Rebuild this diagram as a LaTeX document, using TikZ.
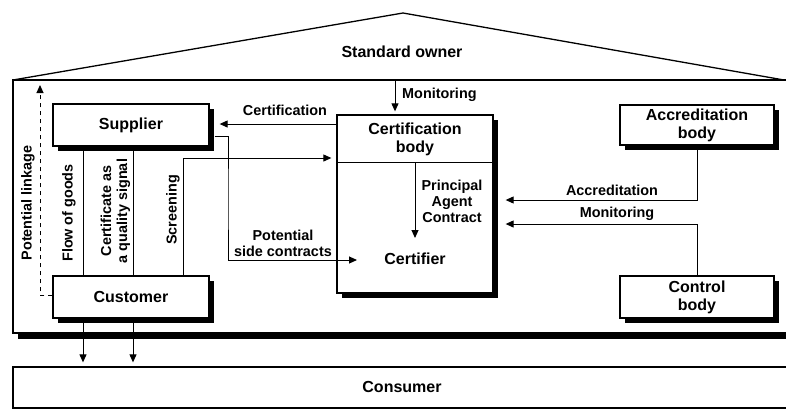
\documentclass[tikz,border=0pt]{standalone}
\usepackage{fontspec}
\setmainfont{Liberation Sans}
\usetikzlibrary{arrows.meta,shadows}
\begin{document}
\begin{tikzpicture}[x=1pt,y=-1pt,
  frame/.style={line width=1.3pt},
  box/.style={draw, line width=1.3pt, fill=white, align=center, inner sep=0pt,
    font=\fontsize{16}{18}\selectfont\bfseries,
    general shadow={fill=black, shadow xshift=5pt, shadow yshift=-5pt}},
  plainbox/.style={draw, line width=1.3pt, fill=white, inner sep=0pt},
  txt/.style={align=center, inner sep=0pt, font=\fontsize{16}{18}\selectfont\bfseries},
  lbl/.style={align=center, inner sep=0pt, font=\fontsize{14.4}{16}\selectfont\bfseries},
  conn/.style={line width=1pt},
  arr/.style={line width=1pt, -{Triangle[length=8pt,width=7pt]}}]
\useasboundingbox (0,0) rectangle (786,410);
\clip (0,0) rectangle (786,410);

% house: roof and body with its shadow
\fill (18,85) rectangle (800,339);
\draw[frame, fill=white] (13,80) rectangle (800,333);
\draw[frame] (13,80) -- (403,13) -- (784,80);
\node[txt] (owner) at (402,52) {Standard owner};
\coordinate (ownerfoot) at (395,80);

% consumer band
\node[plainbox, minimum width=787pt, minimum height=41pt] (cons) at (406.5,387.5) {};
\node[txt] (constxt) at (402,387) {Consumer};

% boxes
\node[box, minimum width=156pt, minimum height=42pt] (sup) at (131,125) {Supplier};
\node[box, minimum width=156pt, minimum height=42pt] (cust) at (131,297) {Customer};
\node[box, minimum width=154pt, minimum height=40pt] (acc) at (697,125) {Accreditation\\body};
\node[box, minimum width=154pt, minimum height=42pt] (ctrl) at (697,297) {Control\\body};
\node[box, minimum width=156pt, minimum height=178pt] (cert) at (415,204) {};
\node[txt] (certbody) at (415,139.5) {Certification\\body};
\node[txt] (certifier) at (415,259) {Certifier};
\coordinate (divL) at (cert.west |- 0,162);
\coordinate (divR) at (cert.east |- 0,162);
\draw[conn] (divL) -- (divR);

% standard owner monitors the certification body
\draw[arr, shorten >=3pt] (ownerfoot) -- (ownerfoot |- cert.north);
\node[lbl, anchor=west] (lmon1) at (402,95) {Monitoring};

% certification to supplier
\draw[arr, shorten >=10pt] (cert.west |- 0,124) -- (sup.east |- 0,124);
\node[lbl] (lcert) at (285,110) {Certification};

% screening from customer
\draw[arr, shorten >=5pt] (cust.north -| 183,0) |- (cert.west |- 0,158);
\node[lbl, rotate=90] (lscr) at (173,210) {Screening};

% potential side contracts
\coordinate (sidetip) at (357,260);
\draw[arr] ([xshift=5pt]sup.east |- 0,136) -| (228,200) |- (sidetip);
\node[lbl] (lside) at (283,243) {Potential\\side contracts};

% flow of goods and certificate
\draw[conn] (sup.south -| 83,0) -- (cust.north -| 83,0);
\draw[conn] (sup.south -| 133,0) -- (cust.north -| 133,0);
\draw[arr, shorten >=4pt] (cust.south -| 83,0) -- (cons.north -| 83,0);
\draw[arr, shorten >=4pt] (cust.south -| 133,0) -- (cons.north -| 133,0);
\node[lbl, rotate=90] (lflow) at (69,213) {Flow of goods};
\node[lbl, rotate=90] (lsig) at (115.5,211) {Certificate as\\a quality signal};

% potential linkage
\coordinate (linktop) at (40,85);
\draw[arr, dash pattern=on 4pt off 4pt] (cust.west |- 0,295) -| (linktop);
\node[lbl, rotate=90] (llink) at (28,203) {Potential linkage};

% principal agent contract
\draw[arr] (415,162) -- (415,238);
\node[lbl] (lpac) at (452,201) {Principal\\Agent\\Contract};

% accreditation and control
\draw[arr, shorten >=12pt] (acc.south) |- (cert.east |- 0,200);
\node[lbl] (lacc) at (612,190) {Accreditation};
\draw[arr, shorten >=12pt] (ctrl.north) |- (cert.east |- 0,224);
\node[lbl] (lmon2) at (617,214) {Monitoring};
\end{tikzpicture}
\end{document}
